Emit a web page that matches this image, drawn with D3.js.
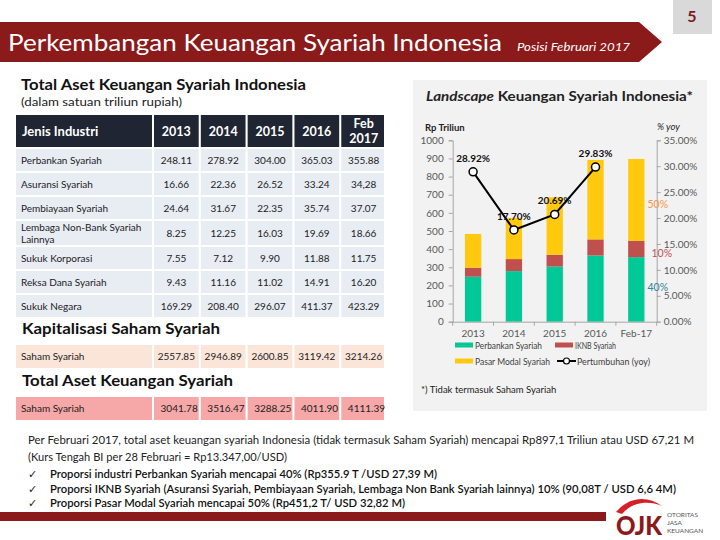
<!DOCTYPE html>
<html><head><meta charset="utf-8">
<script src="https://cdn.jsdelivr.net/npm/d3@7"></script>
<style>body{margin:0;background:#fff} svg{display:block} text{font-family:Lato,"Open Sans",sans-serif}</style>
</head><body><svg id="c" width="720" height="540"></svg>
<script>
// ---------- data ----------
const tableYears = ["2013","2014","2015","2016","Feb 2017"];
const industries = ["Perbankan Syariah","Asuransi Syariah","Pembiayaan Syariah","Lembaga Non-Bank Syariah|Lainnya","Sukuk Korporasi","Reksa Dana Syariah","Sukuk Negara"];
const tableValues = [
  ["248.11","278.92","304.00","365.03","355.88"],
  ["16.66","22.36","26.52","33.24","34,28"],
  ["24.64","31.67","22.35","35.74","37.07"],
  ["8.25","12.25","16.03","19.69","18.66"],
  ["7.55","7.12","9.90","11.88","11.75"],
  ["9.43","11.16","11.02","14.91","16.20"],
  ["169.29","208.40","296.07","411.37","423.29"]
];
const sahamValues = ["2557.85","2946.89","2600.85","3119.42","3214.26"];
const totalValues = ["3041.78","3516.47","3288.25","4011.90","4111.39"];

const chartCats = ["2013","2014","2015","2016","Feb-17"];
const perbankan = [248.11,278.92,304.00,365.03,355.88];
const iknb = [49.55,66.28,64.90,88.67,90.01];
const pasarModal = [186.27,226.68,316.99,438.16,451.24];
const growthCats = ["2013","2014","2015","2016"];
const growth = [28.92,17.70,20.69,29.83];
const leftTicks = [0,100,200,300,400,500,600,700,800,900,1000];
const rightTicks = [0,5,10,15,20,25,30,35];
const shareLabels = [{t:"50%",c:"#F79646"},{t:"10%",c:"#C0504D"},{t:"40%",c:"#31859C"}];
const seriesNames = ["Perbankan Syariah","IKNB Syariah","Pasar Modal Syariah","Pertumbuhan (yoy)"];
const colors = {perbankan:"#00C896", iknb:"#C0504D", pasar:"#FFC90E"};

const svg = d3.select("#c");
const DARKRED = "#8B1A1A";

// ---------- header ----------
svg.append("path").attr("d","M0,22 L639,22 L662,42 L639,62 L0,62 Z").attr("fill",DARKRED);
svg.append("rect").attr("x",673).attr("y",0).attr("width",39).attr("height",34).attr("fill","#d9d9d9");
svg.append("text").attr("x",692).attr("y",22).attr("text-anchor","middle").attr("font-size",16).attr("font-weight","bold").attr("fill","#7a1c1c").text("5");
svg.append("text").attr("x",8).attr("y",51).attr("font-size",24).attr("fill","#fff").attr("textLength",494).attr("lengthAdjust","spacingAndGlyphs").text("Perkembangan Keuangan Syariah Indonesia");
svg.append("text").attr("x",517).attr("y",51).attr("font-size",11.5).attr("font-style","italic").attr("fill","#fff").attr("textLength",113).attr("lengthAdjust","spacingAndGlyphs").text("Posisi Februari 2017");

// ---------- table ----------
svg.append("text").attr("x",21).attr("y",90).attr("font-size",16).attr("font-weight","bold").attr("fill","#111").attr("textLength",285).attr("lengthAdjust","spacingAndGlyphs").text("Total Aset Keuangan Syariah Indonesia");
svg.append("text").attr("x",21).attr("y",106).attr("font-size",12).attr("fill","#222").attr("textLength",161).attr("lengthAdjust","spacingAndGlyphs").text("(dalam satuan triliun rupiah)");

const colX = d3.scaleBand().domain(tableYears).range([154,386]).paddingInner(0.045).paddingOuter(0);
const tbl = svg.append("g");
tbl.append("rect").attr("x",16).attr("y",115).attr("width",136).attr("height",32).attr("fill","#1f2532");
tableYears.forEach(y=>{
  tbl.append("rect").attr("x",colX(y)).attr("y",115).attr("width",colX.bandwidth()-(y==="Feb 2017"?2:0)).attr("height",32).attr("fill","#1f2532");
});
tbl.append("text").attr("x",22).attr("y",136).attr("font-size",13).attr("font-weight","bold").attr("fill","#fff").text("Jenis Industri");
tableYears.forEach(y=>{
  const cx = colX(y)+colX.bandwidth()/2;
  if(y.indexOf(" ")>0){
    const p=y.split(" ");
    tbl.append("text").attr("x",cx).attr("y",128).attr("text-anchor","middle").attr("font-size",12.5).attr("font-weight","bold").attr("fill","#fff").text(p[0]);
    tbl.append("text").attr("x",cx).attr("y",143).attr("text-anchor","middle").attr("font-size",12.5).attr("font-weight","bold").attr("fill","#fff").text(p[1]);
  } else {
    tbl.append("text").attr("x",cx).attr("y",136).attr("text-anchor","middle").attr("font-size",12.5).attr("font-weight","bold").attr("fill","#fff").text(y);
  }
});
const rowH = [22,22,22,24,22,22,22];
let ry = 149;
industries.forEach((name,i)=>{
  const h=rowH[i];
  tbl.append("rect").attr("x",16).attr("y",ry).attr("width",136).attr("height",h).attr("fill","#e8ecf3");
  tableYears.forEach(y=>tbl.append("rect").attr("x",colX(y)).attr("y",ry).attr("width",colX.bandwidth()-(y==="Feb 2017"?2:0)).attr("height",h).attr("fill","#e8ecf3"));
  const parts=name.split("|");
  if(parts.length>1){
    tbl.append("text").attr("x",21).attr("y",ry+10).attr("font-size",10).attr("fill","#222").text(parts[0]);
    tbl.append("text").attr("x",21).attr("y",ry+22).attr("font-size",10).attr("fill","#222").text(parts[1]);
  } else {
    tbl.append("text").attr("x",21).attr("y",ry+h/2+3.5).attr("font-size",10).attr("fill","#222").text(name);
  }
  tableValues[i].forEach((v,j)=>{
    tbl.append("text").attr("x",colX(tableYears[j])+colX.bandwidth()/2).attr("y",ry+h/2+3.5).attr("text-anchor","middle").attr("font-size",10).attr("fill","#222").text(v);
  });
  ry += h+2;
});

svg.append("text").attr("x",22).attr("y",334).attr("font-size",15).attr("font-weight","bold").attr("fill","#111").attr("textLength",198).attr("lengthAdjust","spacingAndGlyphs").text("Kapitalisasi Saham Syariah");
tbl.append("rect").attr("x",16).attr("y",345).attr("width",136).attr("height",23).attr("fill","#fbe5d9");
tableYears.forEach((y,j)=>{
  tbl.append("rect").attr("x",colX(y)).attr("y",345).attr("width",colX.bandwidth()-(y==="Feb 2017"?2:0)).attr("height",23).attr("fill","#fbe5d9");
  tbl.append("text").attr("x",colX(y)+colX.bandwidth()/2).attr("y",360).attr("text-anchor","middle").attr("font-size",10).attr("fill","#222").text(sahamValues[j]);
});
tbl.append("text").attr("x",21).attr("y",360).attr("font-size",10).attr("fill","#222").text("Saham Syariah");

svg.append("text").attr("x",22).attr("y",386).attr("font-size",15).attr("font-weight","bold").attr("fill","#111").attr("textLength",211).attr("lengthAdjust","spacingAndGlyphs").text("Total Aset Keuangan Syariah");
tbl.append("rect").attr("x",16).attr("y",397).attr("width",136).attr("height",23).attr("fill","#f6a7a8");
tableYears.forEach((y,j)=>{
  tbl.append("rect").attr("x",colX(y)).attr("y",397).attr("width",colX.bandwidth()-(y==="Feb 2017"?2:0)).attr("height",23).attr("fill","#f6a7a8");
  tbl.append("text").attr("x",colX(y)+colX.bandwidth()-1).attr("y",412).attr("text-anchor","end").attr("font-size",10).attr("fill","#222").text(totalValues[j]);
});
tbl.append("text").attr("x",21).attr("y",412).attr("font-size",10).attr("fill","#222").text("Saham Syariah");

// ---------- chart panel ----------
svg.append("rect").attr("x",413).attr("y",80).attr("width",294).attr("height",331).attr("fill","#f2f2f2");
const tt = svg.append("text").attr("x",426).attr("y",101).attr("font-size",13).attr("font-weight","bold").attr("fill","#222").attr("textLength",267).attr("lengthAdjust","spacingAndGlyphs");
tt.append("tspan").attr("font-style","italic").text("Landscape");
tt.append("tspan").text(" Keuangan Syariah Indonesia*");

const x = d3.scaleBand().domain(chartCats).range([452.7,656.7]).paddingInner(0.6).paddingOuter(0.3);
const yL = d3.scaleLinear().domain([0,1000]).range([321.7,140.3]);
const yR = d3.scaleLinear().domain([0,35]).range([321.7,140.3]);

const rows = chartCats.map((c,i)=>({cat:c, perbankan:perbankan[i], iknb:iknb[i], pasar:pasarModal[i]}));
const stack = d3.stack().keys(["perbankan","iknb","pasar"])(rows);
const chart = svg.append("g");
chart.selectAll("g.s").data(stack).join("g").attr("fill",d=>colors[d.key])
  .selectAll("rect").data(d=>d).join("rect")
  .attr("x",d=>x(d.data.cat)).attr("width",x.bandwidth())
  .attr("y",d=>yL(d[1])).attr("height",d=>yL(d[0])-yL(d[1]));

// axes
const axL = chart.append("g").attr("transform","translate(452.7,0)").call(d3.axisLeft(yL).tickValues(leftTicks).tickSize(4).tickPadding(5).tickFormat(d3.format("d")));
const axR = chart.append("g").attr("transform","translate(656.7,0)").call(d3.axisRight(yR).tickValues(rightTicks).tickSize(4).tickPadding(3).tickFormat(d=>d.toFixed(2)+"%"));
const axB = chart.append("g").attr("transform","translate(0,321.7)").call(d3.axisBottom(x).tickSize(0).tickPadding(8));
[axL,axR,axB].forEach(a=>{
  a.select(".domain").attr("stroke","#a6a6a6");
  a.selectAll(".tick line").attr("stroke","#a6a6a6");
  a.selectAll("text").attr("fill","#595959").attr("font-size",10).attr("font-family","Lato, sans-serif");
});
const boundaries = chartCats.map(c=>x(c)-x.step()*x.paddingInner()/2).concat([656.7]);
chart.selectAll("line.xt").data(boundaries).join("line").attr("x1",d=>d).attr("x2",d=>d).attr("y1",321.7).attr("y2",325.7).attr("stroke","#a6a6a6");
axB.select(".domain").attr("d","M452.7,0.5H656.7");

chart.append("text").attr("x",425).attr("y",131).attr("font-size",9.5).attr("font-weight","bold").attr("fill","#222").text("Rp Triliun");
chart.append("text").attr("x",657).attr("y",130).attr("font-size",9.5).attr("font-style","italic").attr("fill","#222").text("% yoy");

// growth line
const gp = growthCats.map((c,i)=>({cat:c,v:growth[i]}));
const line = d3.line().x(d=>x(d.cat)+x.bandwidth()/2).y(d=>yR(d.v));
chart.append("path").datum(gp).attr("d",line).attr("fill","none").attr("stroke","#000").attr("stroke-width",2);
chart.selectAll("circle.g").data(gp).join("circle").attr("cx",d=>x(d.cat)+x.bandwidth()/2).attr("cy",d=>yR(d.v)).attr("r",4).attr("fill","#fff").attr("stroke","#000").attr("stroke-width",1.5);
chart.selectAll("text.gl").data(gp).join("text").attr("x",d=>x(d.cat)+x.bandwidth()/2).attr("y",d=>yR(d.v)-10).attr("text-anchor","middle").attr("font-size",10).attr("font-weight","bold").attr("fill","#111").text(d=>d.v.toFixed(2)+"%");

// share labels
const last = chartCats[chartCats.length-1];
const lx = x(last)+x.bandwidth()+3;
shareLabels.forEach((s,i)=>{
  chart.append("text").attr("x",[lx,lx+4,lx][i]).attr("y",[208,257,291][i]).attr("font-size",10.5).attr("fill",s.c).text(s.t);
});

// legend
const lg = chart.append("g");
const legendItems = [
  {n:seriesNames[0],c:colors.perbankan,x:455,y:345,type:"box",w:67},
  {n:seriesNames[1],c:colors.iknb,x:555,y:345,type:"box",w:41},
  {n:seriesNames[2],c:colors.pasar,x:455,y:361,type:"box",w:75},
  {n:seriesNames[3],c:"#000",x:557,y:361,type:"line",w:73}
];
legendItems.forEach(d=>{
  if(d.type==="box") lg.append("rect").attr("x",d.x).attr("y",d.y-2.5).attr("width",18).attr("height",5).attr("fill",d.c);
  else {
    lg.append("line").attr("x1",d.x).attr("x2",d.x+19).attr("y1",d.y).attr("y2",d.y).attr("stroke","#000").attr("stroke-width",2);
    lg.append("circle").attr("cx",d.x+9.5).attr("cy",d.y).attr("r",3).attr("fill","#fff").attr("stroke","#000").attr("stroke-width",1.2);
  }
  lg.append("text").attr("x",d.x+20).attr("y",d.y+3.5).attr("font-size",9.5).attr("fill","#404040").attr("textLength",d.w).attr("lengthAdjust","spacingAndGlyphs").text(d.n);
});
chart.append("text").attr("x",421).attr("y",393).attr("font-size",9.5).attr("fill","#222").text("*) Tidak termasuk Saham Syariah");

// ---------- bottom text ----------
svg.append("text").attr("x",28).attr("y",444).attr("font-size",11.5).attr("fill","#222").attr("textLength",666).attr("lengthAdjust","spacingAndGlyphs").text("Per Februari 2017, total aset keuangan syariah Indonesia (tidak termasuk Saham Syariah) mencapai Rp897,1 Triliun atau USD 67,21 M");
svg.append("text").attr("x",28).attr("y",461).attr("font-size",11.5).attr("fill","#222").attr("textLength",259).attr("lengthAdjust","spacingAndGlyphs").text("(Kurs Tengah BI per 28 Februari = Rp13.347,00/USD)");
const bullets = [
  {t:"Proporsi industri Perbankan Syariah mencapai  40% (Rp355.9 T /USD 27,39 M)", w:387},
  {t:"Proporsi IKNB Syariah (Asuransi Syariah, Pembiayaan Syariah, Lembaga Non Bank Syariah lainnya)  10% (90,08T / USD 6,6 4M)", w:626},
  {t:"Proporsi Pasar Modal Syariah mencapai 50% (Rp451,2 T/ USD 32,82 M)", w:355}
];
bullets.forEach((b,i)=>{
  const yy = 478+i*14.5;
  svg.append("text").attr("x",28).attr("y",yy).attr("font-size",11).attr("fill","#222").attr("font-family","DejaVu Sans").text("✓");
  svg.append("text").attr("x",50).attr("y",yy).attr("font-size",11.5).attr("font-weight","600").attr("fill","#111").attr("textLength",b.w).attr("lengthAdjust","spacingAndGlyphs").text(b.t);
});
svg.append("rect").attr("x",0).attr("y",512).attr("width",606).attr("height",9).attr("fill",DARKRED);

// ---------- logo ----------
const logo = svg.append("g");
logo.append("path").attr("d","M616,512 C630,496 648,496 662,506 C648,500 632,502 622,514 Z").attr("fill","#d62027");
logo.append("text").attr("x",616).attr("y",535).attr("font-size",27).attr("font-weight","900").attr("fill","#8B1A1A").attr("font-family","DejaVu Sans").attr("textLength",46).attr("lengthAdjust","spacingAndGlyphs").text("OJK");
["OTORITAS","JASA","KEUANGAN"].forEach((t,i)=>logo.append("text").attr("x",667).attr("y",517+i*8).attr("font-size",6.5).attr("fill","#555").text(t));
</script></body></html>
